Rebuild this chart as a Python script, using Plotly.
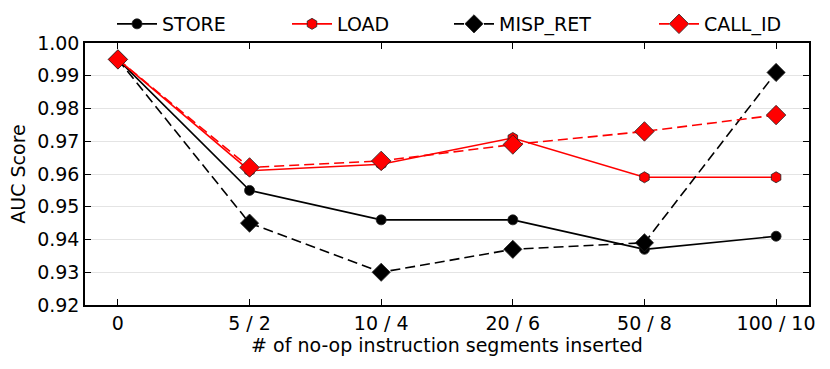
import plotly.graph_objects as go

X_LABELS = ["0", "5 / 2", "10 / 4", "20 / 6", "50 / 8", "100 / 10"]
STORE = [0.995, 0.955, 0.946, 0.946, 0.937, 0.941]
LOAD = [0.995, 0.961, 0.963, 0.971, 0.959, 0.959]
MISP_RET = [0.995, 0.945, 0.930, 0.937, 0.939, 0.991]
CALL_ID = [0.995, 0.962, 0.964, 0.969, 0.973, 0.978]

FONT = "DejaVu Sans, sans-serif"
W, H = 830, 369
L, R, T, B = 85, 21, 42, 64

# name, values, colour, dash, marker, size, legend text x (px)
series = [
    ("STORE", STORE, "black", "solid", "circle", 10, 170),
    ("LOAD", LOAD, "red", "solid", "hexagon", 11, 345),
    ("MISP_RET", MISP_RET, "black", "10px,5px", "diamond", 14, 507),
    ("CALL_ID", CALL_ID, "red", "10px,5px", "diamond", 15, 712),
]

fig = go.Figure()
xs = list(range(len(X_LABELS)))
legends = {}
for i, (name, ys, color, dash, symbol, size, tx) in enumerate(series):
    key = "legend" if i == 0 else f"legend{i + 1}"
    fig.add_trace(go.Scatter(
        x=xs, y=ys, name=name, mode="lines+markers", legend=key,
        line=dict(color=color, width=1.6, dash=dash),
        marker=dict(symbol=symbol, size=size, color=color,
                    line=dict(color="#222", width=0.8)),
    ))
    legends[key] = dict(
        orientation="h", xref="container", x=(tx - 58) / W, xanchor="left",
        yref="container", y=1 - 24 / H, yanchor="middle",
        font=dict(size=19), bgcolor="rgba(0,0,0,0)", itemwidth=40,
    )

fig.update_layout(
    width=W, height=H,
    margin=dict(l=L, r=R, t=T, b=B),
    paper_bgcolor="white", plot_bgcolor="white",
    font=dict(family=FONT, size=19, color="black"),
    showlegend=True,
    xaxis=dict(
        range=[-0.25, 5.25], tickmode="array", tickvals=xs, ticktext=X_LABELS,
        ticks="inside", ticklen=6, tickcolor="black", mirror="ticks",
        showline=True, linecolor="black", linewidth=1.5, showgrid=False,
        zeroline=False, tickfont=dict(size=19), automargin=False,
        title=dict(text="# of no-op instruction segments inserted",
                   font=dict(size=19), standoff=2),
    ),
    yaxis=dict(
        range=[0.92, 1.00], dtick=0.01, tickformat=".2f",
        ticks="inside", ticklen=6, tickcolor="black", mirror="ticks",
        showline=True, linecolor="black", linewidth=1.5,
        showgrid=True, gridcolor="#e4e4e4", gridwidth=1,
        zeroline=False, tickfont=dict(size=19), automargin=False,
        title=dict(text="AUC Score", font=dict(size=19), standoff=6),
    ),
    **legends,
)

fig.write_html("out.html", config={"displayModeBar": False},
               post_script="document.body.style.margin = '0';")
